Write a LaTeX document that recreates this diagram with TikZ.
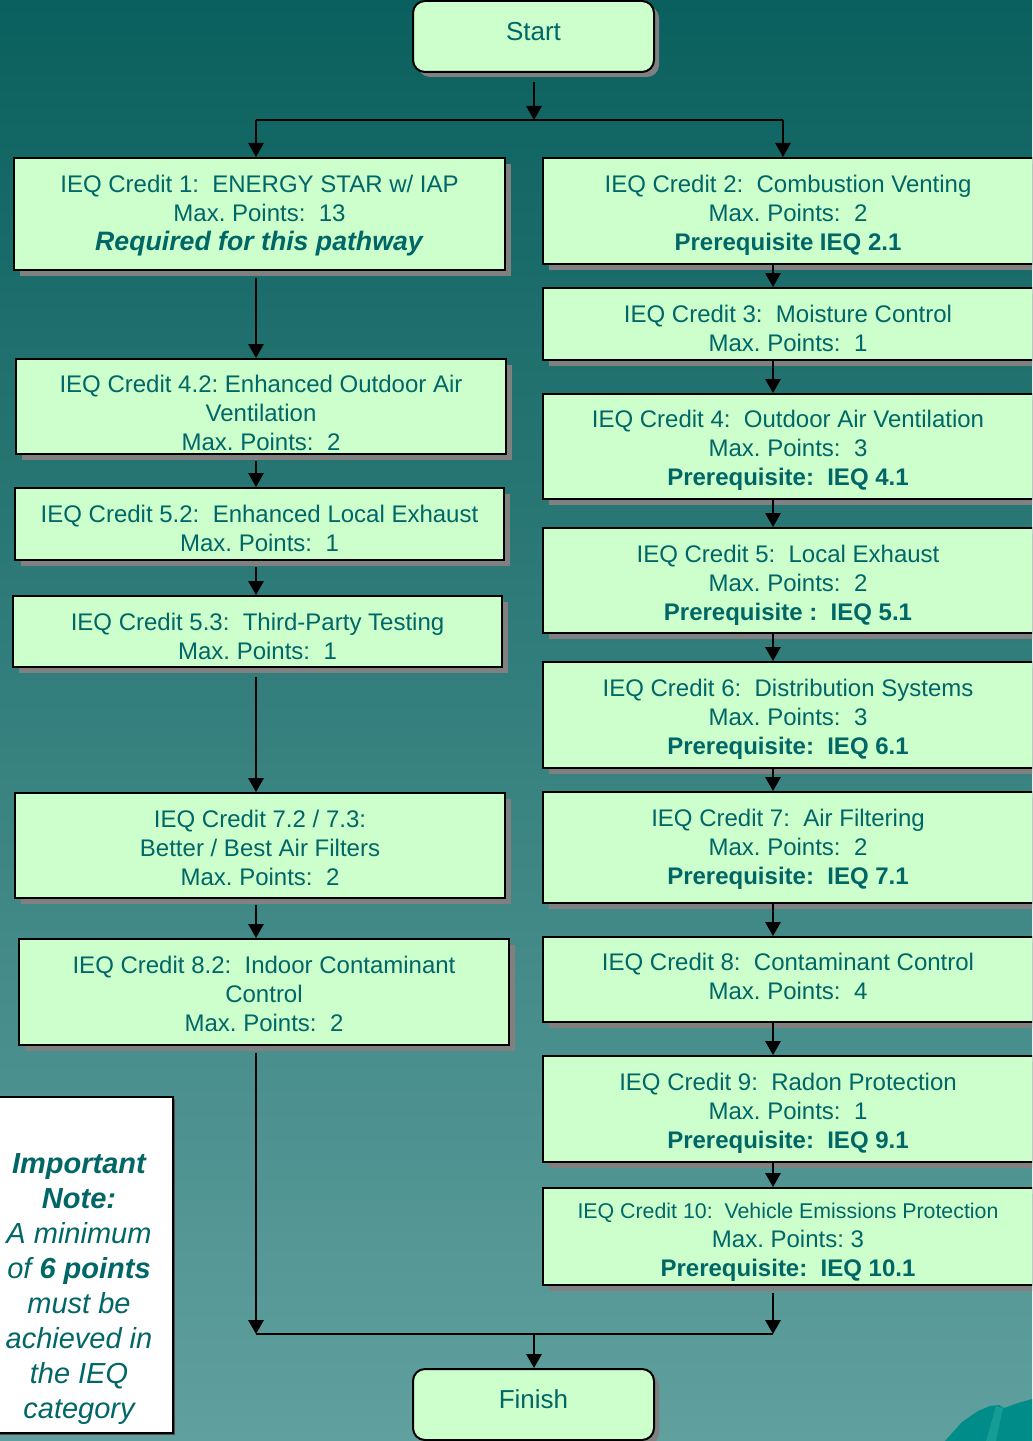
\documentclass[tikz,border=0pt]{standalone}
\usepackage{fontspec}
\setmainfont{Liberation Sans}
\usetikzlibrary{arrows.meta,shadows}
\definecolor{boxgreen}{HTML}{CCFFCC}
\definecolor{txt}{HTML}{006666}
\definecolor{bgtop}{RGB}{10,96,94}
\definecolor{bgbot}{RGB}{96,160,158}
\definecolor{shad}{HTML}{808080}
\definecolor{blob}{RGB}{0,140,136}
\definecolor{blobl}{RGB}{22,156,150}
\newcommand\fs{\fontsize{18pt}{21.75pt}\selectfont}
\newcommand\fsmall{\fontsize{16pt}{21pt}\selectfont}
\newcommand\fbig{\fontsize{20pt}{22.5pt}\selectfont}
\newcommand\fterm{\fontsize{19.5pt}{23pt}\selectfont}
\newcommand\fnote{\fontsize{21.75pt}{26.25pt}\selectfont}
\frenchspacing
\begin{document}
\begin{tikzpicture}[x=0.75pt,y=-0.75pt,
  credit/.style={draw=black, line width=1.5pt, fill=boxgreen, text=txt, align=center, font=\fs\frenchspacing, inner sep=0pt},
  ctext/.style={text=txt, align=center, font=\fs\frenchspacing, inner sep=0pt},
  sh/.style={drop shadow={shadow xshift=4.5pt, shadow yshift=-4.5pt, fill=shad, opacity=1}},
  shs/.style={drop shadow={shadow xshift=3.75pt, shadow yshift=-3.75pt, fill=shad, opacity=1}},
  term/.style={credit, shs, font=\fterm, rounded corners=9pt, minimum width=180.75pt, minimum height=53.25pt, text depth=8pt},
  rcol/.style={credit, sh, minimum width=367.5pt},
  lcol/.style={credit, sh},
  arr/.style={line width=1.5pt, -{Triangle[width=11.5pt,length=10.5pt]}},
  conn/.style={line width=1.5pt},
]
\useasboundingbox (0,0) rectangle (1032,1441);
\clip (0,0) rectangle (1032,1441);
\shade[top color=bgtop, bottom color=bgbot] (0,0) rectangle (1032,1441);
% decorative shape bottom right
\fill[blob] (945,1441) -- (962,1422) -- (978,1411) -- (990,1406) -- (999,1405) -- (1004,1408) -- (1018,1403) -- (1032,1399) -- (1032,1441) -- cycle;
\fill[blobl] (996,1406) -- (1003,1408) -- (996,1441) -- (986,1441) -- cycle;

% terminals
\node[term] (start) at (533.5,36.5) {Start};
\node[term] (finish) at (533.5,1404.5) {Finish};

% left column boxes
\node[lcol, minimum width=368.25pt, minimum height=84pt] (c1) at (259.5,214) {};
\node[lcol, minimum width=367.5pt, minimum height=71.25pt] (c42) at (261,406.5) {};
\node[lcol, minimum width=366.75pt, minimum height=54pt] (c52) at (259.5,524) {};
\node[lcol, minimum width=366.75pt, minimum height=53.25pt] (c53) at (257.5,631.5) {};
\node[lcol, minimum width=367.5pt, minimum height=78.75pt] (c72) at (260,845.5) {};
\node[lcol, minimum width=367.5pt, minimum height=79.5pt] (c82) at (264,992) {};

% right column boxes
\node[rcol, minimum height=79.5pt] (c2) at (788,211) {};
\node[rcol, minimum height=54pt] (c3) at (788,324) {};
\node[rcol, minimum height=78.75pt] (c4) at (788,446.5) {};
\node[rcol, minimum height=78.75pt] (c5) at (788,580.5) {};
\node[rcol, minimum height=79.5pt] (c6) at (788,715) {};
\node[rcol, minimum height=83.25pt] (c7) at (788,847.5) {};
\node[rcol, minimum height=63.75pt] (c8) at (788,979.5) {};
\node[rcol, minimum height=79.5pt] (c9) at (788,1109) {};
\node[rcol, minimum height=72.75pt] (c10) at (788,1236.5) {};

% box texts
\node[ctext] (t1) at (259.5,216)
  {IEQ Credit 1:\ \ ENERGY STAR w/ IAP\\ Max. Points:\ \ 13\\ {\fbig\textbf{\textit{Required for this pathway}}}};
\node[ctext] (t42) at (261,412.5)
  {IEQ Credit 4.2: Enhanced Outdoor Air\\ Ventilation\\ Max. Points:\ \ 2};
\node[ctext] (t52) at (259.5,528.5)
  {IEQ Credit 5.2:\ \ Enhanced Local Exhaust\\ Max. Points:\ \ 1};
\node[ctext] (t53) at (257.5,636.5)
  {IEQ Credit 5.3:\ \ Third-Party Testing\\ Max. Points:\ \ 1};
\node[ctext] (t72) at (260,847.5)
  {IEQ Credit 7.2 / 7.3:\\ Better / Best Air Filters\\ Max. Points:\ \ 2};
\node[ctext] (t82) at (264,994)
  {IEQ Credit 8.2:\ \ Indoor Contaminant\\ Control\\ Max. Points:\ \ 2};
\node[ctext] (t2) at (788,215)
  {IEQ Credit 2:\ \ Combustion Venting\\ Max. Points:\ \ 2\\ \textbf{Prerequisite IEQ 2.1}};
\node[ctext] (t3) at (788,328)
  {IEQ Credit 3:\ \ Moisture Control\\ Max. Points:\ \ 1};
\node[ctext] (t4) at (788,450.5)
  {IEQ Credit 4:\ \ Outdoor Air Ventilation\\ Max. Points:\ \ 3\\ \textbf{Prerequisite:\ \ IEQ 4.1}};
\node[ctext] (t5) at (788,585.5)
  {IEQ Credit 5:\ \ Local Exhaust\\ Max. Points:\ \ 2\\ \textbf{Prerequisite :\ \ IEQ 5.1}};
\node[ctext] (t6) at (788,719)
  {IEQ Credit 6:\ \ Distribution Systems\\ Max. Points:\ \ 3\\ \textbf{Prerequisite:\ \ IEQ 6.1}};
\node[ctext] (t7) at (788,849.5)
  {IEQ Credit 7:\ \ Air Filtering\\ Max. Points:\ \ 2\\ \textbf{Prerequisite:\ \ IEQ 7.1}};
\node[ctext] (t8) at (788,976.5)
  {IEQ Credit 8:\ \ Contaminant Control\\ Max. Points:\ \ 4};
\node[ctext] (t9) at (788,1113)
  {IEQ Credit 9:\ \ Radon Protection\\ Max. Points:\ \ 1\\ \textbf{Prerequisite:\ \ IEQ 9.1}};
\node[ctext] (t10) at (788,1242.5)
  {{\fsmall IEQ Credit 10:\ \ Vehicle Emissions Protection}\\ Max. Points: 3\\ \textbf{Prerequisite:\ \ IEQ 10.1}};

% note
\node[draw=black, line width=1.5pt, fill=white, minimum width=141pt, minimum height=252pt,
  drop shadow={shadow xshift=1.5pt, shadow yshift=-1.5pt, fill=black!70, opacity=1}] (note) at (79,1265) {};
\node[text=txt, align=center, font=\fnote\itshape] (notetext) at (79,1289)
  {\textbf{Important}\\ \textbf{Note:}\\ A minimum\\ of \textbf{6 points}\\ must be\\ achieved in\\ the IEQ\\ category};

% junction points
\coordinate (jt) at (534,120);
\coordinate (jl) at (256,120);
\coordinate (jr) at (783,120);
\coordinate (rx) at (773,120);
\coordinate (bl) at (256,1334);
\coordinate (br) at (773,1334);
\coordinate (bm) at (534,1334);

% connectors
\draw[arr, shorten <=6.75pt] (start.south -| jt) -- (jt);
\draw[conn] (jl) -- (jr);
\draw[arr] (jl) -- (jl |- c1.north);
\draw[arr] (jr) -- (jr |- c2.north);

\draw[arr, shorten <=5pt] (jl |- c1.south) -- (jl |- c42.north);
\draw[arr, shorten <=4.5pt] (jl |- c42.south) -- (jl |- c52.north);
\draw[arr, shorten <=4.5pt] (jl |- c52.south) -- (jl |- c53.north);
\draw[arr, shorten <=7pt] (jl |- c53.south) -- (jl |- c72.north);
\draw[arr, shorten <=4.5pt] (jl |- c72.south) -- (jl |- c82.north);
\draw[arr, shorten <=5pt] (jl |- c82.south) -- (bl);

\draw[arr] (rx |- c2.south) -- (rx |- c3.north);
\draw[arr] (rx |- c3.south) -- (rx |- c4.north);
\draw[arr] (rx |- c4.south) -- (rx |- c5.north);
\draw[arr] (rx |- c5.south) -- (rx |- c6.north);
\draw[arr] (rx |- c6.south) -- (rx |- c7.north);
\draw[arr] (rx |- c7.south) -- (rx |- c8.north);
\draw[arr] (rx |- c8.south) -- (rx |- c9.north);
\draw[arr] (rx |- c9.south) -- (rx |- c10.north);
\draw[arr, shorten <=5pt] (rx |- c10.south) -- (br);

\draw[conn] (bl) -- (br);
\draw[arr] (bm) -- (bm |- finish.north);
\end{tikzpicture}
\end{document}
